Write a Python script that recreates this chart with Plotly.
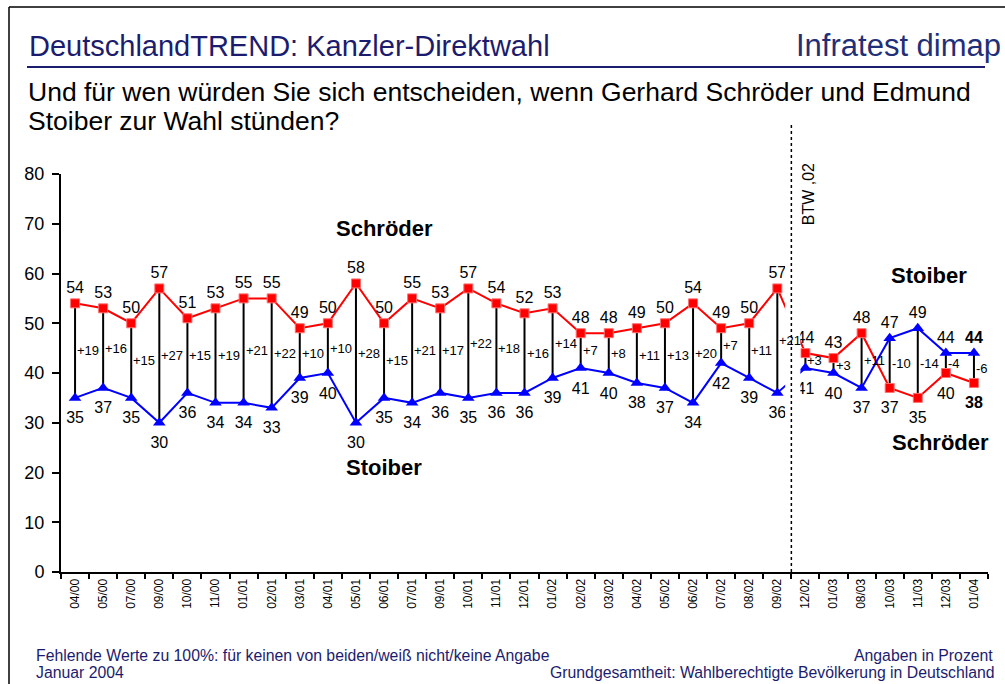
import plotly.graph_objects as go

# ---- data ----
months = ["04/00", "05/00", "07/00", "09/00", "10/00", "11/00", "01/01", "02/01",
          "03/01", "04/01", "05/01", "06/01", "07/01", "09/01", "10/01", "11/01",
          "12/01", "01/02", "02/02", "03/02", "04/02", "05/02", "06/02", "07/02",
          "08/02", "09/02", "12/02", "01/03", "08/03", "10/03", "11/03", "12/03",
          "01/04"]
schroeder = [54, 53, 50, 57, 51, 53, 55, 55, 49, 50, 58, 50, 55, 53, 57, 54, 52,
             53, 48, 48, 49, 50, 54, 49, 50, 57, 44, 43, 48, 37, 35, 40, 38]
stoiber = [35, 37, 35, 30, 36, 34, 34, 33, 39, 40, 30, 35, 34, 36, 35, 36, 36,
           39, 41, 40, 38, 37, 34, 42, 39, 36, 41, 40, 37, 47, 49, 44, 44]
y_ticks = [0, 10, 20, 30, 40, 50, 60, 70, 80]
election_label = "BTW ,02"
last_election_after = "09/02"

FONT = "Arial, Liberation Sans, sans-serif"
NAVY = "#1c1c6e"
W, H = 1005, 684
L, R, T, B = 61, 17, 174, 112


def px_x(px):
    return (px - L) / (W - L - R)


def px_y(py):
    return (H - B - py) / (H - T - B)


n = len(months)
last = n - 1
break_idx = months.index(last_election_after) + 0.5

fig = go.Figure()

# high-low connectors
hx, hy = [], []
for m, s, t in zip(months, schroeder, stoiber):
    hx += [m, m, None]
    hy += [s, t, None]
fig.add_trace(go.Scatter(x=hx, y=hy, mode="lines",
                         line=dict(color="black", width=2),
                         hoverinfo="skip", showlegend=False))

fig.add_trace(go.Scatter(x=months, y=schroeder, mode="lines+markers",
                         line=dict(color="#ff0000", width=2),
                         marker=dict(symbol="square", size=9, color="#ff0000",
                                     line=dict(color="#ff7070", width=1)),
                         name="Schröder", showlegend=False))
fig.add_trace(go.Scatter(x=months, y=stoiber, mode="lines+markers",
                         line=dict(color="#0000ff", width=2),
                         marker=dict(symbol="triangle-up", size=11, color="#0000ff"),
                         name="Stoiber", showlegend=False))


def label_trace(vals, other):
    txt, pos, size = [], [], []
    for i, (v, o) in enumerate(zip(vals, other)):
        txt.append(f"<b>{v}</b>" if i == last else str(v))
        upper = v >= o
        pos.append("top center" if upper else "bottom center")
        size.append(8 if upper else 20)
    return go.Scatter(x=months, y=vals, mode="markers+text",
                      marker=dict(size=size, opacity=0, color="white"),
                      text=txt, textposition=pos,
                      textfont=dict(family=FONT, size=16, color="black"),
                      hoverinfo="skip", showlegend=False)


fig.add_trace(label_trace(schroeder, stoiber))
fig.add_trace(label_trace(stoiber, schroeder))

annotations = []
# difference labels
for i, (s, t) in enumerate(zip(schroeder, stoiber)):
    annotations.append(dict(x=i, y=(s + t) / 2, xref="x", yref="y",
                            text=f"{s - t:+d}", showarrow=False,
                            xanchor="left", yanchor="middle", xshift=0,
                            font=dict(family=FONT, size=13, color="black")))

# series name labels
for txt, x, y in [("Schröder", 11.0, 69.0), ("Stoiber", 11.0, 21.0),
                  ("Stoiber", 30.4, 59.5), ("Schröder", 30.8, 26.0)]:
    annotations.append(dict(x=x, y=y, xref="x", yref="y", text=f"<b>{txt}</b>",
                            showarrow=False, xanchor="center", yanchor="middle",
                            font=dict(family=FONT, size=22, color="black")))

# election label
annotations.append(dict(x=break_idx + 0.6, y=px_y(194), xref="x", yref="paper",
                        text=election_label, textangle=-90, showarrow=False,
                        xanchor="center", yanchor="middle",
                        font=dict(family=FONT, size=16, color="black")))

# header texts
annotations += [
    dict(x=px_x(27), y=px_y(46), xref="paper", yref="paper",
         text="DeutschlandTREND: Kanzler-Direktwahl", showarrow=False,
         xanchor="left", yanchor="middle",
         font=dict(family=FONT, size=29, color=NAVY)),
    dict(x=px_x(1003), y=px_y(45), xref="paper", yref="paper",
         text="Infratest dimap", showarrow=False,
         xanchor="right", yanchor="middle",
         font=dict(family=FONT, size=31, color="#1f2f78")),
    dict(x=px_x(26), y=px_y(92), xref="paper", yref="paper",
         text="Und für wen würden Sie sich entscheiden, wenn Gerhard Schröder und Edmund",
         showarrow=False, xanchor="left", yanchor="middle",
         font=dict(family=FONT, size=26.5, color="black")),
    dict(x=px_x(26), y=px_y(121), xref="paper", yref="paper",
         text="Stoiber zur Wahl stünden?", showarrow=False,
         xanchor="left", yanchor="middle",
         font=dict(family=FONT, size=26.5, color="black")),
    dict(x=px_x(34), y=px_y(655), xref="paper", yref="paper",
         text="Fehlende Werte zu 100%: für keinen von beiden/weiß nicht/keine Angabe",
         showarrow=False, xanchor="left", yanchor="middle",
         font=dict(family=FONT, size=15.8, color=NAVY)),
    dict(x=px_x(34), y=px_y(672), xref="paper", yref="paper",
         text="Januar 2004", showarrow=False, xanchor="left", yanchor="middle",
         font=dict(family=FONT, size=15.8, color=NAVY)),
    dict(x=px_x(995), y=px_y(655), xref="paper", yref="paper",
         text="Angaben in Prozent", showarrow=False, xanchor="right",
         yanchor="middle", font=dict(family=FONT, size=15.8, color=NAVY)),
    dict(x=px_x(997), y=px_y(672), xref="paper", yref="paper",
         text="Grundgesamtheit: Wahlberechtigte Bevölkerung in Deutschland",
         showarrow=False, xanchor="right", yanchor="middle",
         font=dict(family=FONT, size=15.8, color=NAVY)),
]

shapes = [
    # outer frame (left and top edges)
    dict(type="line", xref="paper", yref="paper", x0=px_x(9), x1=px_x(9),
         y0=px_y(H + 5), y1=px_y(7), line=dict(color="black", width=1.5)),
    dict(type="line", xref="paper", yref="paper", x0=px_x(9), x1=px_x(W + 5),
         y0=px_y(7), y1=px_y(7), line=dict(color="black", width=1.5)),
    # title underline
    dict(type="line", xref="paper", yref="paper", x0=px_x(27), x1=px_x(985),
         y0=px_y(67), y1=px_y(67), line=dict(color=NAVY, width=2)),
    # white gap around the election break
    dict(type="rect", xref="x", yref="y", x0=break_idx - 0.22, x1=break_idx + 0.32,
         y0=1, y1=79, line=dict(width=0), fillcolor="white", layer="above"),
    # election divider
    dict(type="line", xref="x", yref="paper", x0=break_idx, x1=break_idx,
         y0=0, y1=px_y(124), line=dict(color="black", width=1.5, dash="dot"),
         layer="above"),
]

fig.update_layout(
    width=W, height=H,
    margin=dict(l=L, r=R, t=T, b=B, pad=0),
    paper_bgcolor="white", plot_bgcolor="white",
    showlegend=False,
    annotations=annotations, shapes=shapes,
    font=dict(family=FONT, color="black"),
)
fig.update_xaxes(type="category", categoryorder="array", categoryarray=months,
                 range=[-0.5, n - 0.5], tickangle=-90, tickson="boundaries",
                 ticks="outside", ticklen=5, tickwidth=1.5, tickcolor="black",
                 showline=True, linecolor="black", linewidth=2, showgrid=False,
                 zeroline=False, tickfont=dict(family=FONT, size=12, color="black"))
fig.update_yaxes(range=[0, 80], tickvals=y_ticks, ticks="outside", ticklen=7,
                 tickwidth=1.5, tickcolor="black", showline=True, linecolor="black",
                 linewidth=2, showgrid=False, zeroline=False, ticklabelstandoff=4,
                 tickfont=dict(family=FONT, size=18, color="black"))

fig.write_html("out.html", config={"displayModeBar": False},
               post_script="document.body.style.margin='0px';"
                           "document.body.style.padding='0px';")
